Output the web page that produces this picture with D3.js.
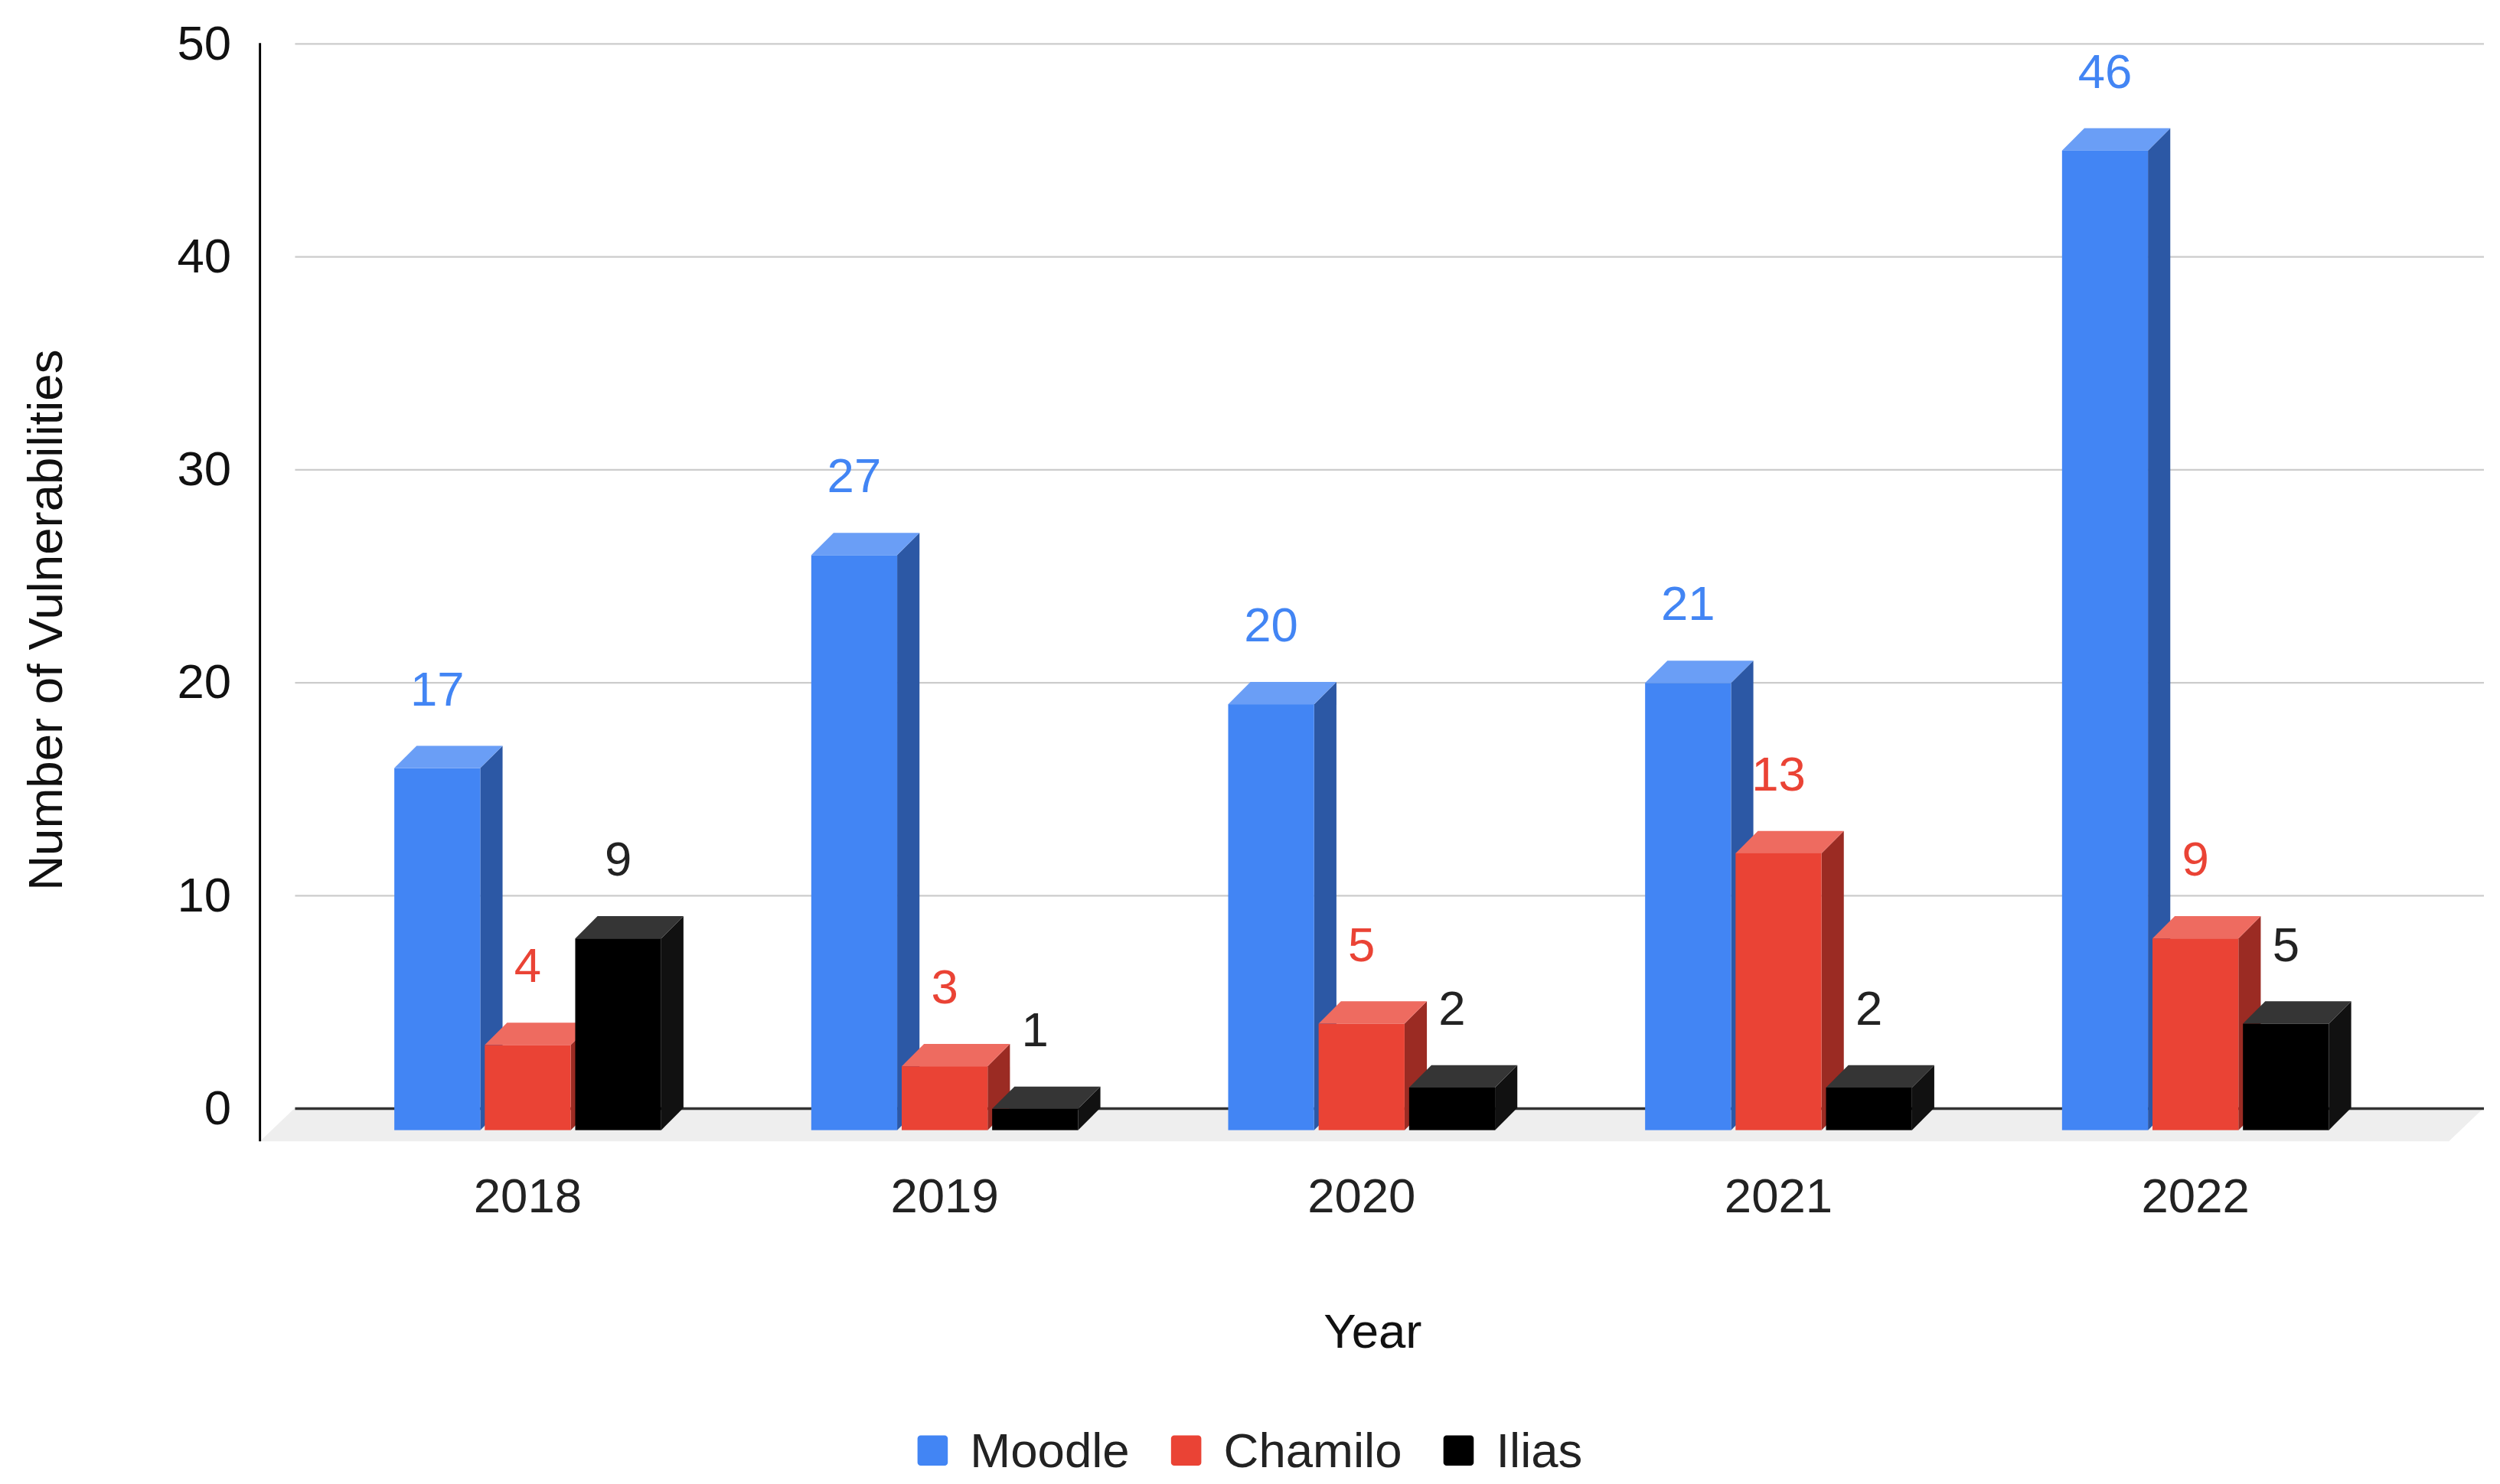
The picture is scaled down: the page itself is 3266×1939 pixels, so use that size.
<!DOCTYPE html>
<html>
<head>
<meta charset="utf-8">
<script src="https://cdn.jsdelivr.net/npm/d3@7"></script>
<style>
  html, body { margin: 0; padding: 0; background: #fff; }
  text { font-family: "Liberation Sans", Arial, sans-serif; }
</style>
</head>
<body>
<div id="chart"></div>
<script>
// drawing units: 1568 x 931, scaled up to the 3266 x 1939 window
var w = 1568;
var h = 931;

var years = ["2018", "2019", "2020", "2021", "2022"];
var seriesNames = ["Moodle", "Chamilo", "Ilias"];
var moodle = [17, 27, 20, 21, 46];
var chamilo = [4, 3, 5, 13, 9];
var ilias = [9, 1, 2, 2, 5];
var yTicks = [0, 10, 20, 30, 40, 50];

var seriesValues = [moodle, chamilo, ilias];
var front = ["#4285f4", "#ea4335", "#000000"];
var topFace = ["#6a9ef6", "#ee6b60", "#353535"];
var sideFace = ["#2c58a5", "#9b2b23", "#111111"];
var labelColor = ["#4285f4", "#ea4335", "#222222"];

var fontSize = 30.5;
var depth = 14;          // bar depth offset
var floorDx = 22, floorDy = 21;
var wallLeft = 185, wallRight = 1558;

var svg = d3.select("#chart")
    .append("svg")
    .attr("width", 3266)
    .attr("height", 1939)
    .attr("viewBox", "0 0 " + w + " " + h);

var yScale = d3.scaleLinear().domain([0, 50]).range([695, 27]);
var x0 = d3.scaleBand().domain(years)
    .range([167.5, 1540.5])
    .paddingInner(0.36)
    .paddingOuter(0.305);
var x1 = d3.scaleBand().domain(seriesNames)
    .range([0, x0.bandwidth()])
    .paddingInner(0.05);
var bw = x1.bandwidth();

// floor
var base = yScale(0);
svg.append("polygon")
    .attr("points", [
        [wallLeft - floorDx, base + floorDy],
        [wallLeft, base],
        [wallRight, base],
        [wallRight - floorDx, base + floorDy]
    ].map(function (p) { return p.join(","); }).join(" "))
    .attr("fill", "#eeeeee");

// gridlines on the back wall
var grid = svg.append("g")
    .attr("transform", "translate(" + wallLeft + ",0)")
    .call(d3.axisLeft(yScale).tickValues(yTicks).tickSize(-(wallRight - wallLeft)).tickFormat(""));
grid.select(".domain").remove();
grid.selectAll(".tick line")
    .attr("stroke", function (d) { return d === 0 ? "#333333" : "#cccccc"; })
    .attr("stroke-width", function (d) { return d === 0 ? 1.6 : 1.1; });

// y axis labels + axis line
var yAxis = svg.append("g")
    .attr("transform", "translate(163,0)")
    .call(d3.axisLeft(yScale).tickValues(yTicks).tickSize(0).tickPadding(18));
yAxis.select(".domain").remove();
yAxis.selectAll("text")
    .attr("font-size", fontSize)
    .attr("font-family", "Liberation Sans, Arial, sans-serif")
    .attr("fill", "#111");

svg.append("line")
    .attr("x1", 163).attr("x2", 163)
    .attr("y1", yScale(50)).attr("y2", base + floorDy)
    .attr("stroke", "#000").attr("stroke-width", 1.4);

// bars
years.forEach(function (yr, i) {
    seriesNames.forEach(function (name, j) {
        var v = seriesValues[j][i];
        var xf = x0(yr) + x1(name);
        var yb = yScale(v);
        var yf = yb + depth;
        var g = svg.append("g").attr("class", "bar");
        g.append("polygon")
            .attr("points", [
                [xf + bw, yf], [xf + bw + depth, yf - depth],
                [xf + bw + depth, base], [xf + bw, base + depth]
            ].map(function (p) { return p.join(","); }).join(" "))
            .attr("fill", sideFace[j]);
        g.append("polygon")
            .attr("points", [
                [xf, yf], [xf + bw, yf], [xf + bw + depth, yf - depth], [xf + depth, yf - depth]
            ].map(function (p) { return p.join(","); }).join(" "))
            .attr("fill", topFace[j]);
        g.append("rect")
            .attr("x", xf).attr("y", yf)
            .attr("width", bw).attr("height", base + depth - yf)
            .attr("fill", front[j]);
    });
});

// value labels
years.forEach(function (yr, i) {
    seriesNames.forEach(function (name, j) {
        var v = seriesValues[j][i];
        svg.append("text")
            .attr("x", x0(yr) + x1(name) + bw / 2)
            .attr("y", yScale(v) - 36)
            .attr("dy", "0.35em")
            .attr("text-anchor", "middle")
            .attr("font-size", fontSize)
            .attr("fill", labelColor[j])
            .text(v);
    });
});

// x axis labels
var xAxis = svg.append("g")
    .attr("transform", "translate(0," + (base + floorDy) + ")")
    .call(d3.axisBottom(x0).tickSize(0).tickPadding(23));
xAxis.select(".domain").remove();
xAxis.selectAll("text")
    .attr("font-size", fontSize)
    .attr("font-family", "Liberation Sans, Arial, sans-serif")
    .attr("fill", "#222");

// axis titles
svg.append("text")
    .attr("x", 861).attr("y", 835).attr("dy", "0.35em")
    .attr("text-anchor", "middle")
    .attr("font-size", fontSize)
    .attr("fill", "#111")
    .text("Year");

svg.append("text")
    .attr("transform", "translate(28,389) rotate(-90)")
    .attr("dy", "0.35em")
    .attr("text-anchor", "middle")
    .attr("font-size", fontSize)
    .attr("fill", "#111")
    .text("Number of Vulnerabilities");

// legend, centred on the page
var legend = svg.append("g").attr("transform", "translate(0,910)");
var lx = 0;
var items = seriesNames.map(function (name, j) {
    var g = legend.append("g");
    g.append("rect")
        .attr("x", 0).attr("y", -9.5)
        .attr("width", 19).attr("height", 19)
        .attr("rx", 2)
        .attr("fill", front[j]);
    var t = g.append("text")
        .attr("x", 33).attr("dy", "0.35em")
        .attr("font-size", fontSize)
        .attr("fill", "#222")
        .text(name);
    var width = 33 + t.node().getComputedTextLength();
    g.attr("transform", "translate(" + lx + ",0)");
    lx += width + 26;
    return g;
});
var totalW = lx - 26;
legend.attr("transform", "translate(" + (w / 2 - totalW / 2) + ",910)");
</script>
</body>
</html>
